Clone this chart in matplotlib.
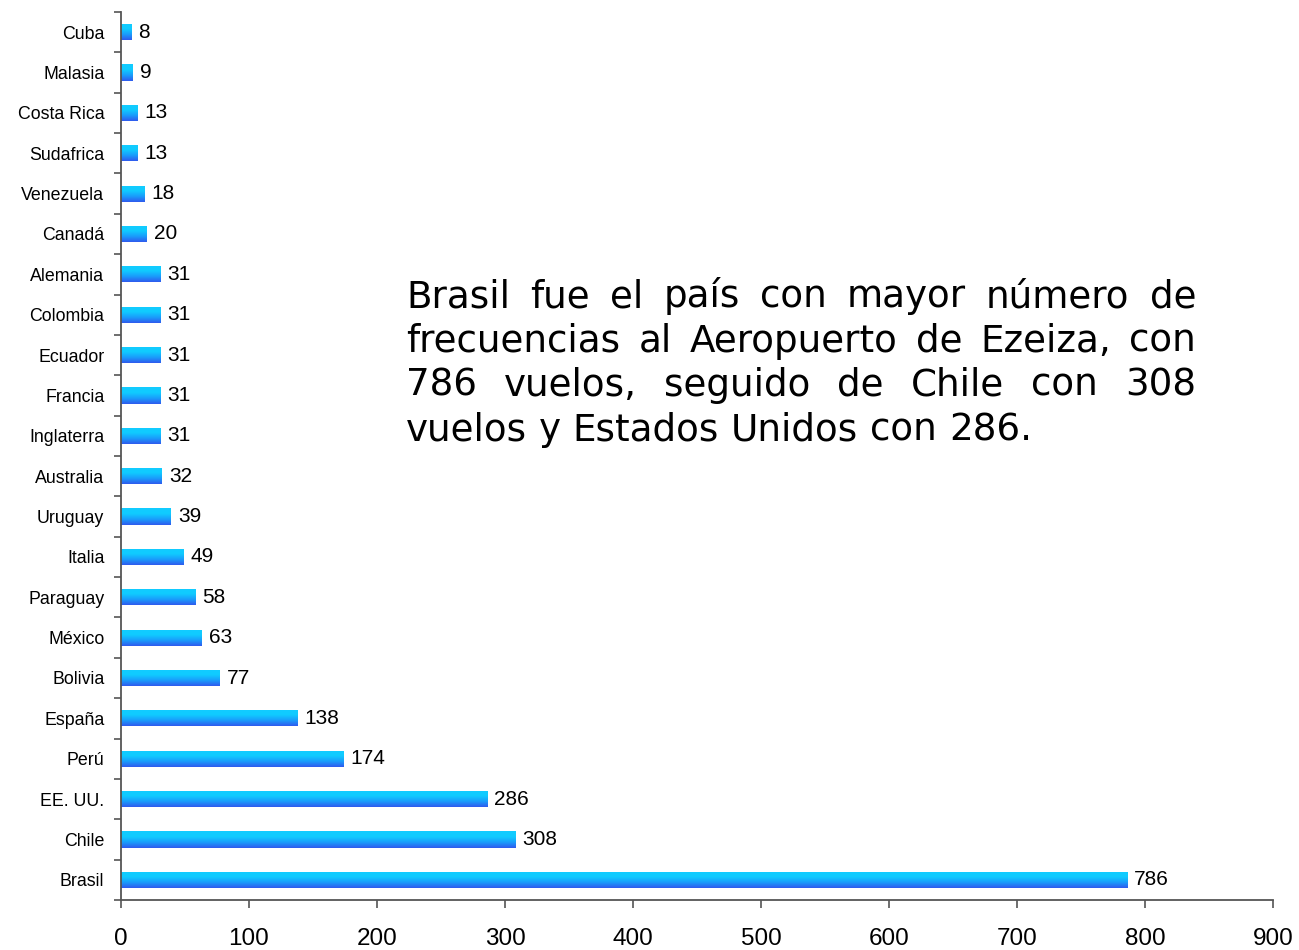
import numpy as np
import matplotlib.pyplot as plt
from matplotlib.colors import LinearSegmentedColormap

paises = ['Brasil', 'Chile', 'EE. UU.', 'Perú', 'España', 'Bolivia', 'México',
          'Paraguay', 'Italia', 'Uruguay', 'Australia', 'Inglaterra', 'Francia',
          'Ecuador', 'Colombia', 'Alemania', 'Canadá', 'Venezuela', 'Sudafrica',
          'Costa Rica', 'Malasia', 'Cuba']
vuelos = [786, 308, 286, 174, 138, 77, 63, 58, 49, 39, 32, 31, 31, 31, 31, 31,
          20, 18, 13, 13, 9, 8]
xticks = [0, 100, 200, 300, 400, 500, 600, 700, 800, 900]

texto = ['Brasil fue el país con mayor número de',
         'frecuencias al Aeropuerto de Ezeiza, con',
         '786 vuelos, seguido de Chile con 308',
         'vuelos y Estados Unidos con 286.']

W, H = 1299, 950
fig = plt.figure(figsize=(W/100, H/100), dpi=100)
ax = fig.add_axes([121/W, 1-900/H, (1273-121)/W, (900-12)/H])

n = len(paises)
y = np.arange(n)
bars = ax.barh(y, vuelos, height=0.4, facecolor='none', edgecolor='none')

cmap = LinearSegmentedColormap.from_list('barra', ['#2F5BEE', '#1A9CFB', '#10CBFF', '#12CCFF'])
grad = np.linspace(0, 1, 64).reshape(-1, 1)
for b in bars:
    x0, y0 = b.get_x(), b.get_y()
    im = ax.imshow(grad, cmap=cmap, aspect='auto', origin='lower',
                   extent=(x0, x0 + b.get_width(), y0, y0 + b.get_height()),
                   interpolation='bilinear', zorder=2)
    im.set_clip_path(b)

for yi, v in zip(y, vuelos):
    ax.annotate(str(v), (v, yi), xytext=(7, 0), textcoords='offset pixels',
                va='center', ha='left', fontsize=15, family='Liberation Sans')

ax.set_xlim(0, 900)
ax.set_ylim(-0.5, n - 0.5)
ax.set_xticks(xticks)
ax.set_xticklabels([str(t) for t in xticks], fontsize=17.5, family='Liberation Sans')
ax.set_yticks(y)
ax.set_yticklabels(paises, fontsize=12.8, family='Liberation Sans')
ax.set_yticks(np.arange(n + 1) - 0.5, minor=True)
ax.tick_params(axis='y', which='major', length=0, pad=12)
ax.tick_params(axis='y', which='minor', length=5, width=1.2, color='#555555')
ax.tick_params(axis='x', length=6, width=1.2, color='#555555', pad=14)
for s in ['top', 'right']:
    ax.spines[s].set_visible(False)
for s in ['left', 'bottom']:
    ax.spines[s].set_color('#555555')
    ax.spines[s].set_linewidth(1.3)

# texto justificado
r = fig.canvas.get_renderer()
x_izq, x_der = 406, 1196
base0, paso = 307, 44.5
fs = 26.8


def ancho(s):
    t = fig.text(0, 0, s, fontsize=fs, family='DejaVu Sans')
    w = t.get_window_extent(r).width
    t.remove()
    return w


for i, linea in enumerate(texto):
    palabras = linea.split(' ')
    yb = 1 - (base0 + i * paso) / H
    anchos = [ancho(p) for p in palabras]
    if i < len(texto) - 1:
        hueco = (x_der - x_izq - sum(anchos)) / (len(palabras) - 1)
    else:
        hueco = ancho('a a') - 2 * ancho('a')
    xp = x_izq
    for p, a in zip(palabras, anchos):
        fig.text(xp / W, yb, p, fontsize=fs, family='DejaVu Sans', va='baseline', ha='left')
        xp += a + hueco

fig.savefig('out.png', dpi=100)
